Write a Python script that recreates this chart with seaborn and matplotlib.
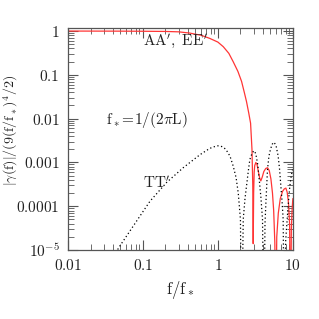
import numpy as np
import pandas as pd
import matplotlib
matplotlib.use("Agg")
import matplotlib.pyplot as plt
import seaborn as sns
from matplotlib.ticker import FixedLocator, FixedFormatter, LogLocator, NullFormatter

# AA', EE' transfer (red)
aa_f = [0.01, 0.05, 0.1, 0.2, 0.3, 0.42, 0.6, 0.78, 1.0, 1.18, 1.4, 1.6, 1.85, 2.07, 2.25, 2.41,
        2.58, 2.73, 2.85, 2.92, 2.96, 3.0, 3.05, 3.1, 3.21, 3.33, 3.45, 3.6, 3.74, 3.9, 4.1,
        4.35, 4.6, 4.85, 5.1, 5.35, 5.55, 5.75, 5.93, 6.1, 6.4, 6.8, 7.3, 7.7, 8.07, 8.4,
        8.75, 9.05, 9.3, 9.55, 9.8, 10.0]
aa_y = [1.0, 0.995, 0.99, 0.98, 0.96, 0.9, 0.8, 0.68, 0.56, 0.44, 0.31, 0.2, 0.12, 0.071,
        0.04, 0.0245, 0.0135, 0.0079, 0.002, 0.0003, 1.4e-5, 2e-4, 6e-4, 8.5e-4, 1.0e-3,
        9e-4, 6.5e-4, 4.5e-4, 3.8e-4, 4.6e-4, 6.2e-4, 7.3e-4, 7.6e-4, 6.5e-4, 4.2e-4,
        2e-4, 8e-5, 1.5e-5, 1e-7, 2e-5, 7e-5, 1.5e-4, 2.2e-4, 2.5e-4, 2.6e-4, 2.1e-4,
        1.2e-4, 4e-5, 1e-7, 3e-5, 9e-5, 1.5e-4]

# TT' transfer (black dotted)
tt_f = [0.04, 0.047, 0.074, 0.124, 0.207, 0.345, 0.575, 0.78, 0.9, 1.0, 1.1, 1.2, 1.3, 1.45,
        1.6, 1.75, 1.87, 2.0, 2.07, 2.18, 2.3, 2.41, 2.55, 2.67, 2.85, 3.02, 3.2, 3.4, 3.56,
        3.75, 3.94, 4.1, 4.25, 4.37, 4.59, 4.8, 5.03, 5.3, 5.58, 5.95, 6.37, 6.65, 6.92,
        7.2, 7.43, 7.66, 8.0, 8.4, 8.75, 9.12, 9.5, 9.9]
tt_y = [6e-6, 1.1e-5, 3.5e-5, 1.3e-4, 3.5e-4, 7.6e-4, 1.5e-3, 2.1e-3, 2.3e-3, 2.4e-3,
        2.35e-3, 2.2e-3, 1.9e-3, 1.4e-3, 8.3e-4, 4.5e-4, 2.0e-4, 5e-5, 1e-7, 5e-5, 1.5e-4,
        2.9e-4, 6.5e-4, 1.17e-3, 1.6e-3, 1.86e-3, 1.6e-3, 9e-4, 4.1e-4, 1.6e-4, 5e-5, 1e-7,
        4e-5, 1.2e-4, 6.9e-4, 1.4e-3, 2e-3, 2.6e-3, 2.9e-3, 2.5e-3, 1.4e-3, 7e-4, 2.9e-4,
        1.2e-4, 5e-5, 1e-7, 1.5e-5, 5e-5, 1.3e-4, 2.9e-4, 4.8e-4, 6.9e-4]

xticks = [0.01, 0.1, 1, 10]
xtick_labels = ["0.01", "0.1", "1", "10"]
yticks = [1e-5, 1e-4, 1e-3, 1e-2, 1e-1, 1]
ytick_labels = ["10^{-5}", "0.0001", "0.001", "0.01", "0.1", "1"]

sns.set_style("ticks")
plt.rcParams["font.family"] = ["DejaVu Serif"]
plt.rcParams["mathtext.fontset"] = "cm"

fig = plt.figure(figsize=(3.19, 3.19), dpi=100)
ax = fig.add_axes([0.213, 0.216, 0.705, 0.697])

sns.lineplot(x=aa_f, y=aa_y, ax=ax, color="#ff3535", linewidth=0.9)
sns.lineplot(x=tt_f, y=tt_y, ax=ax, color="black", linewidth=0.9, linestyle=(0, (1, 2)))

ax.set_xscale("log")
ax.set_yscale("log")
ax.set_xlim(0.01, 10)
ax.set_ylim(1e-5, 1.19)

ax.xaxis.set_major_locator(FixedLocator(xticks))
ax.xaxis.set_major_formatter(FixedFormatter([r"$\mathrm{%s}$" % t for t in xtick_labels]))
ax.yaxis.set_major_locator(FixedLocator(yticks))
ax.yaxis.set_major_formatter(FixedFormatter([r"$\mathrm{%s}$" % t for t in ytick_labels]))
ax.xaxis.set_minor_locator(LogLocator(base=10, subs=np.arange(2, 10)))
ax.yaxis.set_minor_locator(LogLocator(base=10, subs=np.arange(2, 10)))
ax.xaxis.set_minor_formatter(NullFormatter())
ax.yaxis.set_minor_formatter(NullFormatter())

edge = "#555555"
for s in ax.spines.values():
    s.set_color(edge)
    s.set_linewidth(0.9)
ax.tick_params(which="both", direction="in", top=True, right=True, colors=edge,
               labelcolor="#222222", labelsize=11)
ax.tick_params(which="major", length=7, width=0.8, pad=6)
ax.tick_params(which="minor", length=4, width=0.6)

ax.set_xlabel(r"$\mathrm{f/f_*}$", fontsize=12, color="#222222", labelpad=4)
ax.set_ylabel(r"$|\gamma(\mathrm{f})|/(9(\mathrm{f/f_*})^4/2)$", fontsize=10, color="#222222")
ax.yaxis.set_label_coords(-0.215, 0.54)

ax.text(0.1, 0.6, r"$\mathrm{AA',\ EE'}$", fontsize=11, ha="left", va="center", color="#222222")
ax.text(0.032, 0.0093, r"$\mathrm{f_*\!=\!1/(2\pi L)}$", fontsize=11, ha="left", va="center", color="#222222")
ax.text(0.1, 3.4e-4, r"$\mathrm{TT'}$", fontsize=11, ha="left", va="center", color="#222222")

fig.savefig("out.png", dpi=100)
